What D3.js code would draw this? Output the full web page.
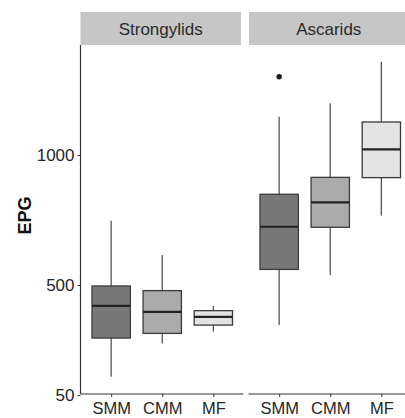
<!DOCTYPE html>
<html>
<head>
<meta charset="utf-8">
<script src="https://cdn.jsdelivr.net/npm/d3@7"></script>
<style>
  body { margin: 0; background: white; }
  svg { display: block; font-family: "Liberation Sans", Arial, sans-serif; }
</style>
</head>
<body>
<div id="chart"></div>
<script>
// boxplot stats per group: [low whisker, q1, median, q3, high whisker]
const categories = ["SMM", "CMM", "MF"]
const facets = ["Strongylids", "Ascarids"]
const strongylids = [[125, 283, 415, 496, 747], [261, 302, 390, 477, 615], [309, 336, 370, 395, 414]]
const ascarids = [[336, 560, 724, 849, 1147], [538, 722, 818, 914, 1199], [767, 913, 1022, 1127, 1359]]
const outliers = [{ facet: "Ascarids", group: "SMM", value: 1301 }]
const yTicks = [50, 500, 1000]

const width = 405
const height = 418

const fills = { SMM: "#787878", CMM: "#ababab", MF: "#e3e3e3" }
const textCol = "#262626"

const svg = d3.select("#chart").append("svg")
    .attr("width", width)
    .attr("height", height)

const plotTop = 45, plotBottom = 394
const panelW = 163.5
const panelX = [80.5, 248.5]

// axis mapping
const y = d3.scaleLinear()
    .domain(yTicks)
    .range([395, 285, 155])

const stats = { Strongylids: strongylids, Ascarids: ascarids }

facets.forEach((f, fi) => {
    const x0 = panelX[fi]
    const x = d3.scalePoint().domain(categories).range([x0, x0 + panelW]).padding(0.6)
    const bw = x.step() * 0.75
    const g = svg.append("g").attr("class", "panel")

    // strip
    g.append("rect")
        .attr("x", x0 + (fi == 0 ? 0 : 0.5))
        .attr("y", 12)
        .attr("width", fi == 0 ? panelW - 3 : panelW)
        .attr("height", 33)
        .attr("fill", "#c6c6c6")
    g.append("text")
        .attr("x", fi == 0 ? x0 + (panelW - 3) / 2 : x0 + (405 - x0) / 2 + 2)
        .attr("y", 34.5)
        .attr("text-anchor", "middle")
        .attr("font-size", "17px")
        .attr("fill", "#2a2a2a")
        .text(f)

    const boxes = g.selectAll(".box")
        .data(stats[f].map((s, i) => ({ group: categories[i], s: s })))
        .enter().append("g").attr("class", "box")

    boxes.append("line")
        .attr("x1", d => x(d.group)).attr("x2", d => x(d.group))
        .attr("y1", d => y(d.s[4])).attr("y2", d => y(d.s[0]))
        .attr("stroke", "#555").attr("stroke-width", 1.3)
    boxes.append("rect")
        .attr("x", d => x(d.group) - bw / 2)
        .attr("width", bw)
        .attr("y", d => y(d.s[3]))
        .attr("height", d => y(d.s[1]) - y(d.s[3]))
        .attr("fill", d => fills[d.group])
        .attr("stroke", "#3a3a3a").attr("stroke-width", 1.3)
    boxes.append("line")
        .attr("x1", d => x(d.group) - bw / 2).attr("x2", d => x(d.group) + bw / 2)
        .attr("y1", d => y(d.s[2])).attr("y2", d => y(d.s[2]))
        .attr("stroke", "#222").attr("stroke-width", 2.2)

    g.selectAll(".outlier")
        .data(outliers.filter(o => o.facet == f))
        .enter().append("circle")
        .attr("class", "outlier")
        .attr("cx", d => x(d.group))
        .attr("cy", d => y(d.value))
        .attr("r", 2.7)
        .attr("fill", "#1a1a1a")

    const xAxis = g.append("g")
        .attr("transform", `translate(0,${plotBottom})`)
        .call(d3.axisBottom(x).tickSize(3).tickSizeOuter(0))
    xAxis.select(".domain").attr("stroke", "#333").attr("stroke-width", 1.2)
        .attr("d", `M${x0},0H${fi == 0 ? x0 + panelW - 0.5 : x0 + panelW}`)
    xAxis.selectAll(".tick line").attr("stroke", "#333")
    xAxis.selectAll("text")
        .attr("font-size", "16.5px")
        .attr("fill", textCol)
        .attr("dy", "0")
        .attr("y", 19.5)
        .style("font-family", "inherit")
})

const yAxis = svg.append("g")
    .attr("transform", `translate(${panelX[0]},0)`)
    .call(d3.axisLeft(y).tickValues(yTicks).tickFormat(d3.format("d")).tickSize(3).tickSizeOuter(0))
yAxis.select(".domain").attr("d", `M0,${plotTop}V${plotBottom}`).attr("stroke", "#333").attr("stroke-width", 1.2)
yAxis.selectAll(".tick line").attr("stroke", "#333")
yAxis.selectAll("text")
    .attr("font-size", "17px")
    .attr("fill", textCol)
    .attr("x", -6)
    .style("font-family", "inherit")

svg.append("text")
    .attr("transform", `translate(31,${(plotTop + plotBottom) / 2 - 4}) rotate(-90)`)
    .attr("text-anchor", "middle")
    .attr("font-size", "18px")
    .attr("font-weight", "bold")
    .attr("fill", "#111")
    .text("EPG")
</script>
</body>
</html>
